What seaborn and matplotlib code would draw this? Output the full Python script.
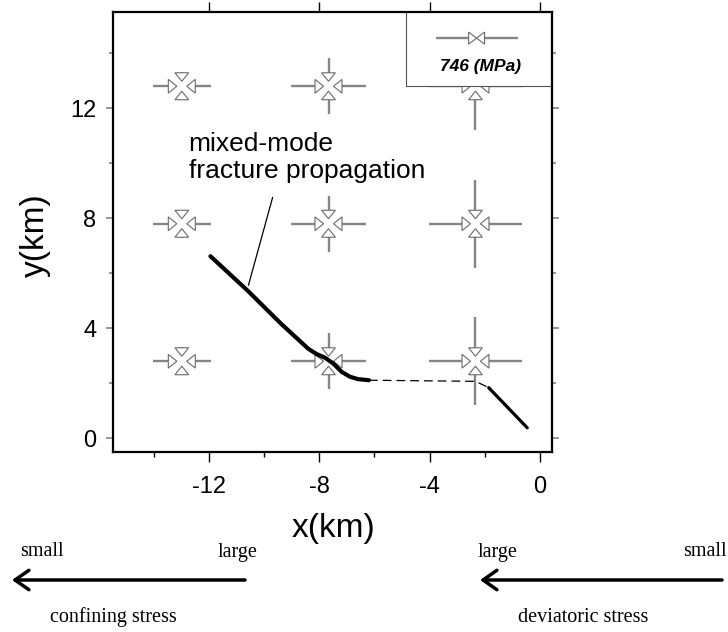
import numpy as np
import matplotlib
matplotlib.use("Agg")
import matplotlib.pyplot as plt
from matplotlib.patches import Polygon, Rectangle
import seaborn as sns

# stress symbol grid (km) and compressive stress per column (MPa)
col_x = [-13.0, -7.67, -2.33]
row_y = [12.8, 7.8, 2.8]
stress_h = [528, 691, 846]
stress_v = [255, 509, 800]
legend_stress = 746

# fracture trace (km)
solid1_x = [-11.96, -10.6, -9.4, -8.4, -8.1, -7.8, -7.5, -7.2, -6.9, -6.6, -6.2]
solid1_y = [6.62, 5.36, 4.17, 3.25, 3.06, 2.93, 2.72, 2.42, 2.24, 2.15, 2.11]
dash_x = [-6.2, -2.33, -1.85]
dash_y = [2.11, 2.07, 1.84]
solid2_x = [-1.85, -0.45]
solid2_y = [1.84, 0.38]

sns.set_theme(style="ticks")
plt.rcParams['font.family'] = ['Liberation Sans', 'DejaVu Sans']
plt.rcParams['text.color'] = 'black'
plt.rcParams['xtick.labelcolor'] = 'black'
plt.rcParams['ytick.labelcolor'] = 'black'

fig = plt.figure(figsize=(7.28, 6.32), dpi=100)
ax = fig.add_axes([113/728, 180/632, 439/728, 440/632])
ax.set_xlim(-15.5, 0.45)
ax.set_ylim(-0.5, 15.5)

grey = '#858585'
edge = '#6a6a6a'
km_per_mpa = 1.49 / legend_stress
tip, base, hw = 0.18, 0.49, 0.25


def head(cx, cy, dx, dy, t, b, w, z=4):
    # hollow triangle pointing toward the centre along (dx, dy)
    px, py = -dy, dx
    pts = [(cx - dx*t, cy - dy*t),
           (cx - dx*b + px*w, cy - dy*b + py*w),
           (cx - dx*b - px*w, cy - dy*b - py*w)]
    ax.add_patch(Polygon(pts, closed=True, facecolor='white', edgecolor=edge,
                         lw=0.8, zorder=z))


for i, cx in enumerate(col_x):
    lh = stress_h[i] * km_per_mpa
    lv = stress_v[i] * km_per_mpa
    for cy in row_y:
        for s in (-1, 1):
            ax.plot([cx + s*base, cx + s*max(lh, base)], [cy, cy], color=grey, lw=1.7,
                    zorder=3, solid_capstyle='butt')
            ax.plot([cx, cx], [cy + s*base, cy + s*max(lv, base)], color=grey, lw=1.7,
                    zorder=3, solid_capstyle='butt')
            head(cx, cy, s, 0, tip, base, hw)
            head(cx, cy, 0, s, tip, base, hw)

# fracture path
sns.lineplot(x=solid1_x, y=solid1_y, sort=False, estimator=None, color='black', lw=3.0, ax=ax,
             zorder=5, solid_joinstyle='round')
ax.plot(dash_x, dash_y, color='black', lw=0.9, ls=(0, (7, 4)), zorder=5)
sns.lineplot(x=solid2_x, y=solid2_y, sort=False, estimator=None, color='black', lw=2.3, ax=ax, zorder=5)

# annotation
ax.text(-12.75, 10.2, 'mixed-mode\nfracture propagation', fontsize=19, ha='left', va='center',
        linespacing=1.15, zorder=6)
ax.plot([-9.7, -10.58], [8.76, 5.56], color='black', lw=0.9, zorder=6)

# legend box
lx, ly = -2.29, 14.55
ax.add_patch(Rectangle((-4.84, 12.8), 5.4, 2.8, facecolor='white', edgecolor='#555555', lw=0.8, zorder=7))
ll = legend_stress * km_per_mpa
for s in (-1, 1):
    ax.plot([lx + s*0.29, lx + s*ll], [ly, ly], color=grey, lw=1.7, zorder=8, solid_capstyle='butt')
    head(lx, ly, s, 0, 0, 0.29, 0.22, z=9)
ax.text(lx + 0.15, 13.5, f'{legend_stress} (MPa)', fontsize=12.5, fontweight='bold', fontstyle='italic',
        ha='center', va='center', zorder=9)

# axes styling
ax.set_xticks([-12, -8, -4, 0])
ax.set_xticks(np.arange(-14, 1, 2), minor=True)
ax.set_yticks([0, 4, 8, 12])
ax.set_yticks(np.arange(2, 16, 4), minor=True)
ax.set_xticklabels(['-12', '-8', '-4', '0'])
ax.tick_params(which='both', direction='out', top=True, right=True, labelsize=17)
ax.tick_params(axis='x', which='major', length=7, width=1, color='black', pad=10)
ax.tick_params(axis='x', which='minor', length=3.5, width=1, color='black', top=False)
ax.tick_params(axis='y', which='major', length=5, width=1.2, color=grey, pad=7)
ax.tick_params(axis='y', which='minor', length=3, width=1.2, color=grey)
for sp in ax.spines.values():
    sp.set_visible(True)
    sp.set_linewidth(1.6)
    sp.set_color('black')
    sp.set_zorder(10)

fig.text(35/728, 1 - 235/632, 'y(km)', fontsize=24, rotation=90, ha='center', va='center')
fig.text(334/728, 1 - 528/632, 'x(km)', fontsize=24, ha='center', va='center')

# stress direction keys
serif = ['Liberation Serif', 'DejaVu Serif']
yk = 1 - 552/632
ya = 1 - 580/632
yt = 1 - 617/632
fig.text(20/728, yk, 'small', family=serif, fontsize=14.5, ha='left', va='center')
fig.text(257/728, yk, 'large', family=serif, fontsize=14.5, ha='right', va='center')
fig.text(113/728, yt, 'confining stress', family=serif, fontsize=14.5, ha='center', va='center')
fig.text(478/728, yk, 'large', family=serif, fontsize=14.5, ha='left', va='center')
fig.text(727/728, yk, 'small', family=serif, fontsize=14.5, ha='right', va='center')
fig.text(583/728, yt, 'deviatoric stress', family=serif, fontsize=14.5, ha='center', va='center')
for x0, x1 in [(245, 12), (722, 480)]:
    ax.annotate('', xy=(x1/728, ya), xytext=(x0/728, ya), xycoords='figure fraction',
                textcoords='figure fraction',
                arrowprops=dict(arrowstyle='->,head_length=0.5,head_width=0.35', lw=2.5,
                                color='black', mutation_scale=20, shrinkA=0, shrinkB=0))

fig.savefig('out.png', dpi=100)
